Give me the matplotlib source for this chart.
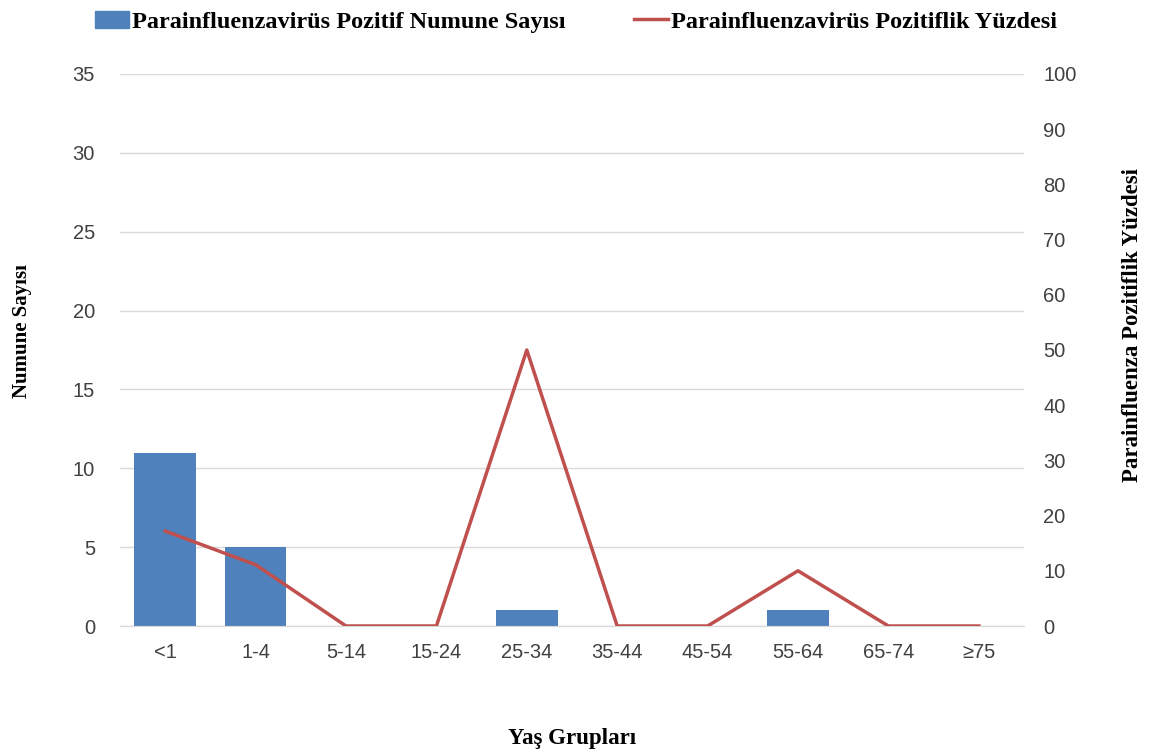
import numpy as np
import matplotlib.pyplot as plt
from matplotlib.patches import Patch
from matplotlib.lines import Line2D

# veriler
yas_gruplari = ["<1", "1-4", "5-14", "15-24", "25-34", "35-44", "45-54", "55-64", "65-74", "≥75"]
numune_sayisi = [11, 5, 0, 0, 1, 0, 0, 1, 0, 0]
pozitiflik_yuzdesi = [17.2, 11.1, 0, 0, 50, 0, 0, 10, 0, 0]

mavi = "#4f81bd"
kirmizi = "#c0504d"
serif = "Liberation Serif"
sans = "Liberation Sans"

fig = plt.figure(figsize=(11.52, 7.55), dpi=100)
ax = fig.add_axes([120 / 1152, 1 - 626 / 755, 904 / 1152, 552 / 755])
x = np.arange(len(yas_gruplari))

ax.bar(x, numune_sayisi, width=0.68, color=mavi, zorder=2)
ax.set_ylim(0, 35)
ax.set_yticks(range(0, 36, 5))
ax.set_xlim(-0.5, len(yas_gruplari) - 0.5)
ax.set_xticks(x)
ax.set_xticklabels(yas_gruplari)
ax.grid(axis="y", color="#d9d9d9", linewidth=1, zorder=0)
ax.set_axisbelow(True)

ax2 = ax.twinx()
ax2.plot(x, pozitiflik_yuzdesi, color=kirmizi, linewidth=2.5, zorder=3)
ax2.set_ylim(0, 100)
ax2.set_yticks(range(0, 101, 10))

for a in (ax, ax2):
    for s in ["top", "left", "right"]:
        a.spines[s].set_visible(False)
    a.spines["bottom"].set_color("#d9d9d9")
    a.tick_params(length=0, labelsize=14.5, labelcolor="#404040")
    for lbl in a.get_xticklabels() + a.get_yticklabels():
        lbl.set_fontfamily(sans)
ax.tick_params(axis="y", pad=18)
ax.tick_params(axis="x", pad=12)
ax2.tick_params(axis="y", pad=14)

ax.set_ylabel("Numune Sayısı", fontfamily=serif, fontweight="bold", fontsize=15)
ax2.set_ylabel("Parainfluenza Pozitiflik Yüzdesi", fontfamily=serif, fontweight="bold", fontsize=16.5)
ax.yaxis.set_label_coords(-0.097, 0.535)
ax2.yaxis.set_label_coords(1.108, 0.545)
ax.set_xlabel("Yaş Grupları", fontfamily=serif, fontweight="bold", fontsize=16.5)
ax.xaxis.set_label_coords(0.5, -0.185)

handles = [Patch(color=mavi), Line2D([0], [0], color=kirmizi, linewidth=2.5)]
labels = ["Parainfluenzavirüs Pozitif Numune Sayısı", "Parainfluenzavirüs Pozitiflik Yüzdesi"]
fig.legend(handles, labels, loc="upper center", bbox_to_anchor=(0.5, 1.005), ncol=2, frameon=False,
           prop={"family": serif, "weight": "bold", "size": 17.5}, handlelength=1.4, handletextpad=0.15,
           columnspacing=2.8, borderaxespad=0.2)

fig.savefig("out.png", dpi=100)
